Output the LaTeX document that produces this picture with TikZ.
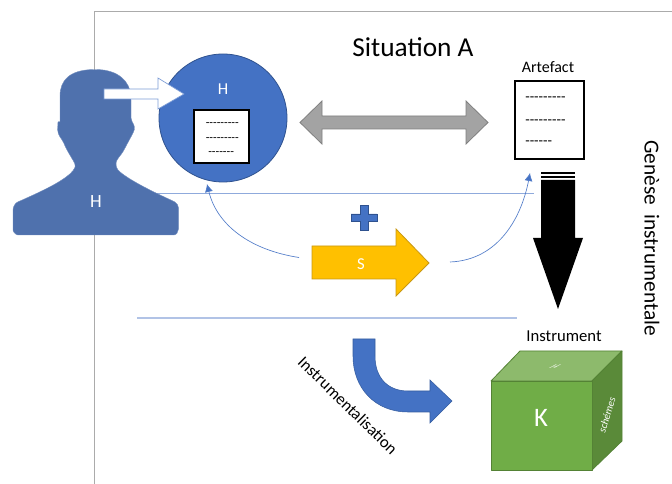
\documentclass[tikz,border=0pt]{standalone}
\usepackage{fontspec}
\setmainfont{Carlito}
\newfontfamily\dashfont{Carlito}
\usetikzlibrary{arrows.meta}
\definecolor{frameg}{HTML}{ABABAB}
\definecolor{lineb}{HTML}{8FAADC}
\definecolor{blueA}{HTML}{4472C4}
\definecolor{blueD}{HTML}{2F528F}
\definecolor{silh}{HTML}{4F71AD}
\tikzset{
  framel/.style={draw=frameg,line width=0.7pt},
  thinb/.style={draw=lineb,line width=0.6pt},
  curvearrow/.style={draw=blueA!80!lineb,line width=0.5pt,-{Latex[length=6pt,width=6pt,fill=blueA]}},
  paper/.style={draw=black,fill=white,line width=0.8pt},
  lbl/.style={inner sep=0pt,text=black},
  wlbl/.style={inner sep=0pt,text=white},
  dashes/.style={inner sep=0pt,anchor=west,font=\dashfont\fontsize{9}{9}\selectfont}
}
\begin{document}
\begin{tikzpicture}[x=0.75pt,y=-0.75pt]
\useasboundingbox (0,0) rectangle (672,484);
% frame
\coordinate (fa) at (94,484); \coordinate (fb) at (94,11); \coordinate (fc) at (672,11);
\draw[framel] (fa) -- (fb) -- (fc);
% blue rules
\coordinate (r1a) at (150,193); \coordinate (r1b) at (534,193);
\coordinate (r2a) at (137,318); \coordinate (r2b) at (517,318);
\draw[thinb] (r1a) -- (r1b);
\draw[thinb,line width=0.8pt,draw=lineb!70] (r2a) -- (r2b);
% silhouette
\draw[fill=silh,draw=silh!80!white,line width=0.3pt,rounded corners=1.5pt]
 (13,212) .. controls (13,207) and (15,203) .. (20,201)
 .. controls (40,192) and (60,183) .. (72,172)
 .. controls (75,168) and (76,166) .. (74,162)
 .. controls (70,155) and (66,149) .. (63,141)
 .. controls (59,136) and (57,132) .. (58,124)
 .. controls (58,122) and (60,121) .. (60,120)
 -- (60,98)
 .. controls (60,80) and (70,70) .. (95,69.5)
 .. controls (119,70) and (130,82) .. (131,98)
 -- (131,120)
 .. controls (133,123) and (135,127) .. (134,131)
 .. controls (131,137) and (127,144) .. (124,150)
 .. controls (121,155) and (116,160) .. (116,165)
 .. controls (117,170) and (122,174) .. (130,179)
 .. controls (145,188) and (160,195) .. (173,201)
 .. controls (177,203) and (178.500,206) .. (178.500,210)
 -- (178.500,227)
 .. controls (178.500,232) and (176,235) .. (172,235)
 -- (20,235)
 .. controls (16,235) and (13,232) .. (13,228) -- cycle;
\node[wlbl,font=\fontsize{14}{14}\selectfont] (hs) at (96,202) {H};
% circle
\node[circle,fill=blueA,draw=blueD,line width=0.6pt,minimum size=128pt*0.75,inner sep=0pt] (hc) at (223,118) {};
\node[wlbl,font=\fontsize{12.500}{12.500}\selectfont] (hct) at (223,89) {H};
\draw[paper] (194,110) rectangle (249,163);
\node[dashes] (d1) at (205.500,125) {---------};
\node[dashes] (d2) at (205.500,139.500) {---------};
\node[dashes] (d3) at (208,154) {-------};
% white arrow
\draw[fill=white,draw=blueA!70!white,line width=0.5pt]
 (104,89) -- (158,89) -- (158,78) -- (184,94) -- (158,109) -- (158,99) -- (104,99) -- cycle;
% gray double arrow
\draw[fill=black!36,draw=black!50,line width=0.6pt]
 (300,122.500) -- (322,101) -- (322,116) -- (466,116) -- (466,101) -- (488,122.500)
 -- (466,144) -- (466,129) -- (322,129) -- (322,144) -- cycle;
% artefact
\node[lbl,font=\fontsize{12}{12}\selectfont] (art) at (548,67) {Artefact};
\draw[paper] (515,81) rectangle (584,159);
\node[dashes,font=\dashfont\fontsize{11}{11}\selectfont] (a1) at (525,99) {---------};
\node[dashes,font=\dashfont\fontsize{11}{11}\selectfont] (a2) at (525,122) {---------};
\node[dashes,font=\dashfont\fontsize{11}{11}\selectfont] (a3) at (525,143) {------};
% black arrow
\fill[black] (541,172) rectangle (575,174);
\fill[black] (541,176) rectangle (575,178);
\fill[black] (541,180) -- (575,180) -- (575,238) -- (583,238) -- (558,309) -- (533,238) -- (541,238) -- cycle;
% plus
\draw[fill=blueA,draw=blueD,line width=0.4pt]
 (360,205.500) -- (368,205.500) -- (368,214) -- (377,214) -- (377,221) -- (368,221) -- (368,230.500)
 -- (360,230.500) -- (360,221) -- (351,221) -- (351,214) -- (360,214) -- cycle;
% yellow arrow
\draw[fill=yellow!50!orange!0!white,fill={rgb,255:red,255;green,192;blue,0},draw={rgb,255:red,200;green,152;blue,20},line width=0.6pt]
 (312,246) -- (396,246) -- (396,229) -- (429,263) -- (396,296) -- (396,279) -- (312,279) -- cycle;
\node[wlbl,font=\fontsize{12.500}{12.500}\selectfont] (st) at (361,264) {S};
% curved arrows
\coordinate (c1) at (299,257.500); \coordinate (c2) at (207,184);
\coordinate (c3) at (450,262); \coordinate (c4) at (530,173);
\draw[curvearrow] (c1) .. controls (250,250) and (217,225) .. (c2);
\draw[curvearrow] (c3) .. controls (500,260) and (522,215) .. (c4);
% curved blue arrow
\draw[fill=blueA,draw=blueD!70!blueA,line width=0.4pt]
 (353,339) -- (375,339) -- (375,356)
 .. controls (375,378) and (388,391) .. (408,391)
 -- (430,391) -- (430,380) -- (452,401) -- (430,423) -- (430,412) -- (408,412)
 .. controls (375,412) and (353,388) .. (353,356) -- cycle;
\node[lbl,rotate=-44.500,font=\fontsize{12.500}{12.500}\selectfont] (ins) at (348,405.500) {Instrumentalisation};
% cube
\node[lbl,font=\fontsize{12.500}{12.500}\selectfont] (inst) at (564,336) {Instrument};
\begin{scope}[draw={rgb,255:red,84;green,130;blue,53},line width=0.6pt,line join=round]
\draw[fill={rgb,255:red,141;green,186;blue,108}] (491,381) -- (520,351) -- (622,351) -- (592,381) -- cycle;
\draw[fill={rgb,255:red,90;green,138;blue,57}] (592,381) -- (622,351) -- (622,441) -- (592,470) -- cycle;
\draw[fill={rgb,255:red,112;green,173;blue,71}] (491,381) rectangle (592,470);
\end{scope}
\node[wlbl,font=\fontsize{20}{20}\selectfont] (k) at (541,418) {K};
\node[wlbl,font=\itshape\fontsize{8}{8}\selectfont,cm={1,0,0.9,0.55,(555,367)}] (h2) at (0,0) {H};
\node[wlbl,font=\itshape\fontsize{8}{8}\selectfont,rotate=73] (sch) at (607,415) {schémes};
% titles
\node[lbl,font=\fontsize{20.500}{20.500}\selectfont] (title) at (413,47) {Situation A};
\node[lbl,rotate=-90,font=\fontsize{16}{16}\selectfont] (gen) at (652,238) {Genèse\ \ instrumentale};
\end{tikzpicture}
\end{document}
